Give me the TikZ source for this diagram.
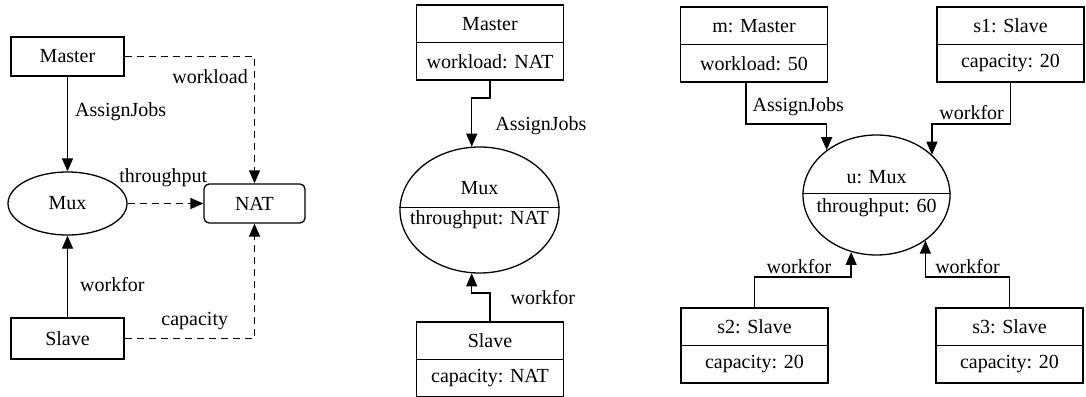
\documentclass[tikz,border=0pt]{standalone}
\usepackage{fontspec}
\setmainfont{Liberation Serif}
\usetikzlibrary{arrows.meta,positioning,shapes.geometric}

\begin{document}
\begin{tikzpicture}[x=1pt, y=-1pt, line width=1.3pt,
  every node/.style={font=\fontsize{20}{23}\selectfont},
  cell/.style={draw, minimum width=147pt, minimum height=37.5pt, inner sep=0pt, outer sep=0pt},
  typebox/.style={draw, inner sep=0pt},
  mux/.style={draw, ellipse, inner sep=0pt},
  lbl/.style={inner sep=2pt},
  link/.style={-{Triangle[length=13pt,width=11pt]}},
  dep/.style={link, dash pattern=on 7pt off 5pt}]
  \useasboundingbox (0,0) rectangle (1086,396);

  % type graph
  \node[typebox, minimum width=113pt, minimum height=39pt] (tm) at (67.5,56.5) {Master};
  \node[mux, minimum width=119pt, minimum height=63pt] (tmux) at (67.5,203.5) {Mux};
  \node[typebox, rounded corners=5pt, minimum width=101pt, minimum height=39pt] (tnat) at (254.5,203.5) {NAT};
  \node[typebox, minimum width=113pt, minimum height=41pt] (ts) at (67.5,338.5) {Slave};

  \draw[link] (tm) -- node[lbl, pos=0.375, right=5pt] {AssignJobs} (tmux);
  \draw[dep] (tm.east) -| node[lbl, pos=0.58, left=4pt] {workload} (tnat.north);
  \draw[dep] (tmux) -- node[lbl, pos=0.47, above=14pt] {throughput} (tnat);
  \draw[link] (ts) -- node[lbl, pos=0.4, right=10pt] {workfor} (tmux);
  \draw[dep] (ts.east) -| node[lbl, pos=0.27, above=6pt] {capacity} (tnat.south);

  % class diagram
  \node[cell] (cm) at (490,23.75) {Master};
  \node[cell, below=0pt of cm] (cmv) {workload: NAT};
  \node[mux, minimum width=159pt, minimum height=126pt] (cmux) at (479.5,210) {};
  \draw (cmux.178) -- (cmux.2);
  \node (cmuxn) at ([yshift=22pt]cmux.center) {Mux};
  \node (cmuxv) at ([yshift=-10pt]cmux.center) {throughput: NAT};
  \node[cell] (cs) at (490,340.75) {Slave};
  \node[cell, below=0pt of cs] (csv) {capacity: NAT};

  \draw[link] (cmv.south) -- ++(0,18) -| node[lbl, pos=0.78, right=21pt] {AssignJobs} (cmux.97);
  \draw[link] (cs.north) -- node[lbl, pos=0.86, right=18pt] {workfor} ++(0,-29) -| (cmux.-97);

  % object diagram
  \node[cell] (om) at (754,25.75) {m: Master};
  \node[cell, below=0pt of om] (omv) {workload: 50};
  \node[cell] (os1) at (1010.5,25.75) {s1: Slave};
  \node[cell, below=0pt of os1] (os1v) {capacity: 20};
  \node[mux, minimum width=147pt, minimum height=120pt] (omux) at (876.5,195) {};
  \draw (omux.179) -- (omux.1);
  \node (omuxn) at ([yshift=18pt]omux.center) {u: Mux};
  \node (omuxv) at ([yshift=-13pt]omux.center) {throughput: 60};
  \node[cell] (os2) at (754.5,326.75) {s2: Slave};
  \node[cell, below=0pt of os2] (os2v) {capacity: 20};
  \node[cell] (os3) at (1009.5,326.75) {s3: Slave};
  \node[cell, below=0pt of os3] (os3v) {capacity: 20};

  \draw[link] ([xshift=-8pt]omv.south) -- node[lbl, pos=0.6, right=4pt] {AssignJobs} ++(0,42) -| (omux.138);
  \draw[link] (os1v.south) -- node[lbl, pos=0.72, left=4pt] {workfor} ++(0,42) -| (omux.36.5);
  \draw[link] (os2.north) -- ++(0,-31) -| node[lbl, pos=0.23, above=1pt] {workfor} (omux.-114.4);
  \draw[link] (os3.north) -- ++(0,-31) -| node[lbl, pos=0.25, above=1pt] {workfor} (omux.-43.9);
\end{tikzpicture}
\end{document}
